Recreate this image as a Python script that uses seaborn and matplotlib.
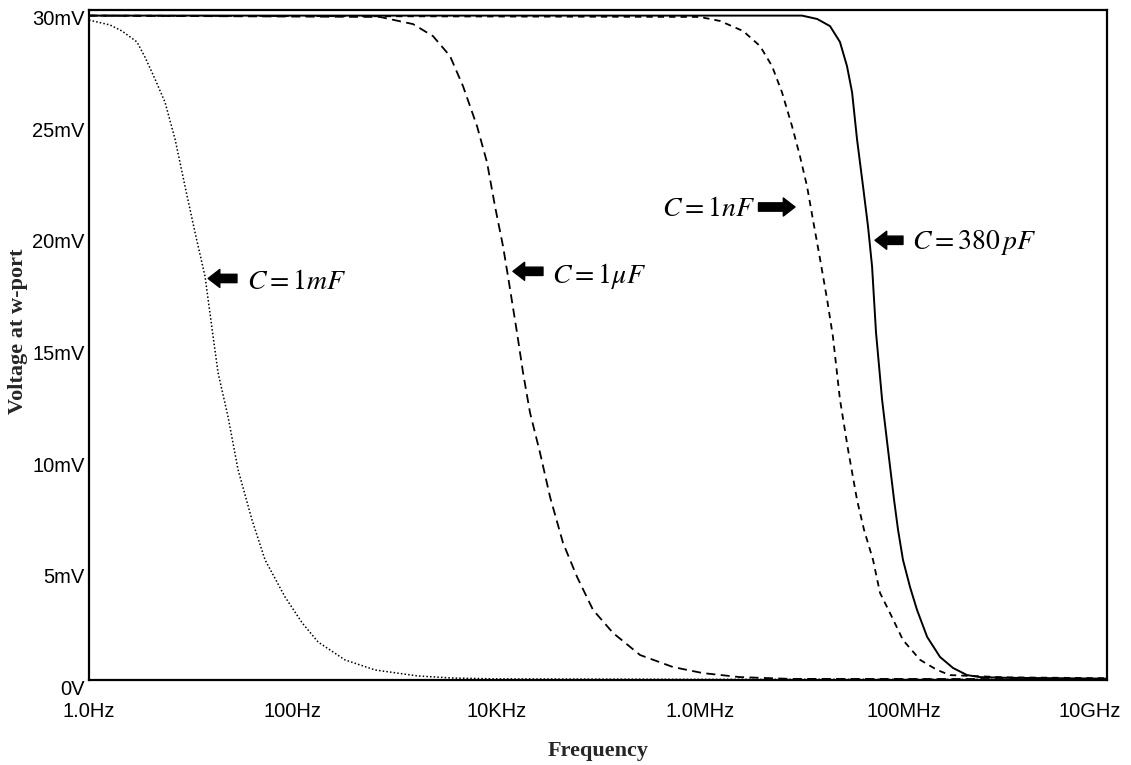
import matplotlib
matplotlib.use("Agg")
import matplotlib.pyplot as plt
import matplotlib.transforms as mtransforms
import seaborn as sns
import pandas as pd

# Frequency sweep results: frequency (Hz) and output voltage (mV) for each capacitor value
freq_1mF = [1.0, 1.61, 2.11, 2.96, 3.55, 4.45, 5.58, 7.0, 8.77, 11.0, 13.8, 16.2, 18.5, 23.2,
            29.1, 39.9, 53.6, 84.2, 124, 178, 327, 645, 1710, 3680, 1e4, 1e6, 1e10]
volt_1mF = [29.55, 29.33, 29.06, 28.57, 27.89, 26.91, 25.87, 24.22, 22.11, 20.04, 18.07,
            15.70, 13.77, 11.79, 9.42, 7.17, 5.38, 3.72, 2.56, 1.70, 0.90, 0.45, 0.18, 0.09,
            0.05, 0.03, 0.03]

freq_1uF = [1.0, 721, 1523, 2395, 3516, 4720, 6480, 8120, 9730, 11670, 13060, 16000,
            18330, 21480, 26920, 33740, 45290, 62200, 89300, 140300, 258600, 545600,
            1.07e6, 2.48e6, 7.7e6, 1e10]
volt_1uF = [29.75, 29.69, 29.37, 28.83, 27.94, 26.59, 24.80, 23.18, 21.21, 19.42, 18.07,
            15.56, 13.77, 11.97, 10.18, 8.21, 6.14, 4.62, 3.14, 2.11, 1.12, 0.58, 0.31,
            0.13, 0.05, 0.04]

freq_1nF = [1.0, 1.0e6, 1.58e6, 2.66e6, 3.90e6, 5.12e6, 6.41e6, 8.05e6, 9.64e6, 1.13e7,
            1.29e7, 1.52e7, 1.78e7, 2.03e7, 2.38e7, 2.86e7, 3.50e7, 4.10e7, 5.03e7,
            5.89e7, 7.38e7, 9.9e7, 1.46e8, 2.14e8, 2.87e8, 1e9, 1e10]
volt_1nF = [29.75, 29.69, 29.51, 29.06, 28.39, 27.49, 26.32, 24.80, 23.45, 22.11, 20.63,
            18.83, 17.04, 15.38, 12.56, 10.31, 8.07, 6.73, 5.38, 3.90, 3.00, 1.79, 0.90,
            0.45, 0.22, 0.12, 0.08]

freq_380pF = [1.0, 1.01e7, 1.42e7, 1.90e7, 2.38e7, 2.79e7, 3.13e7, 3.50e7, 4.01e7, 4.49e7,
              4.92e7, 5.38e7, 6.17e7, 7.06e7, 8.09e7, 8.85e7, 9.9e7, 1.16e8, 1.36e8,
              1.71e8, 2.29e8, 3.07e8, 4.22e8, 5.65e8, 1e9, 1e10]
volt_380pF = [29.75, 29.75, 29.60, 29.28, 28.57, 27.49, 26.32, 24.22, 22.11, 20.31, 18.52,
              15.56, 12.56, 10.31, 8.07, 6.73, 5.38, 4.17, 3.14, 1.93, 1.03, 0.54, 0.22,
              0.13, 0.10, 0.06]

x_ticks = [1, 1e2, 1e4, 1e6, 1e8, 1e10]
x_tick_labels = ["1.0Hz", "100Hz", "10KHz", "1.0MHz", "100MHz", "10GHz"]
y_ticks = [0, 5, 10, 15, 20, 25, 30]
y_tick_labels = ["0V", "5mV", "10mV", "15mV", "20mV", "25mV", "30mV"]

sns.set_style("white")
plt.rcParams["font.family"] = ["Liberation Sans", "DejaVu Sans"]
plt.rcParams["mathtext.fontset"] = "stix"

fig = plt.figure(figsize=(11.31, 7.65), dpi=100)
ax = fig.add_axes([0.0787, 0.1111, 0.9001, 0.8758])

curves = [
    (freq_1mF, volt_1mF, (0, (1, 1.4)), 1.1),
    (freq_1uF, volt_1uF, (0, (5, 3)), 1.3),
    (freq_1nF, volt_1nF, (0, (3.5, 2.8)), 1.3),
    (freq_380pF, volt_380pF, "-", 1.4),
]
for freq, volt, ls, lw in curves:
    df = pd.DataFrame({"freq": freq, "mV": volt})
    sns.lineplot(data=df, x="freq", y="mV", ax=ax, color="black", linestyle=ls,
                 linewidth=lw, sort=False, estimator=None)

ax.set_xscale("log")
ax.set_xlim(1, 1e10)
ax.set_ylim(0, 30)
ax.set_xticks(x_ticks)
ax.set_xticklabels(x_tick_labels)
ax.set_yticks(y_ticks)
ax.set_yticklabels(y_tick_labels)
ax.minorticks_off()
ax.tick_params(axis="x", direction="inout", length=8, width=1.2, pad=12,
               labelsize=14.5, colors="black")
ax.tick_params(axis="y", direction="out", length=3, width=1.2, pad=0,
               labelsize=14.5, colors="black")
for lab in ax.get_yticklabels():
    lab.set_verticalalignment("top")

# keep the last frequency label inside the figure
last = ax.get_xticklabels()[-1]
last.set_transform(last.get_transform() +
                   mtransforms.ScaledTranslation(-17 / 100, 0, fig.dpi_scale_trans))

for side in ["left", "bottom", "top", "right"]:
    ax.spines[side].set_visible(True)
    ax.spines[side].set_color("black")
    ax.spines[side].set_linewidth(1.6)

ax.set_xlabel("Frequency", fontfamily="Liberation Serif", fontweight="bold",
              fontsize=16, labelpad=14)
ax.set_ylabel("Voltage at w-port", fontfamily="Liberation Serif", fontweight="bold",
              fontsize=16, va="center")
ax.yaxis.set_label_coords(-0.0697, 0.52)

# Capacitor labels with block arrows pointing at their curves
labels = [
    (r"$C = 1mF$", (14.8, 17.98), (28.4, 17.98), (35.6, 17.8)),
    (r"$C = 1\mu F$", (14600, 18.3), (28800, 18.3), (35300, 18.07)),
    (r"$C = 1nF$", (8.61e6, 21.18), (3.77e6, 21.18), (4.25e5, 21.08)),
    (r"$C = 380\,pF$", (5.26e7, 19.69), (9.9e7, 19.69), (1.21e8, 19.6)),
]
for text, tip, tail, tpos in labels:
    ax.annotate("", xy=tip, xytext=tail,
                arrowprops=dict(arrowstyle="simple,head_length=0.42,head_width=0.65,tail_width=0.3",
                                fc="black", ec="black", mutation_scale=20,
                                shrinkA=0, shrinkB=0))
    ax.text(tpos[0], tpos[1], text, fontsize=20, ha="left", va="center", color="black")

fig.savefig("out.png", dpi=100)
